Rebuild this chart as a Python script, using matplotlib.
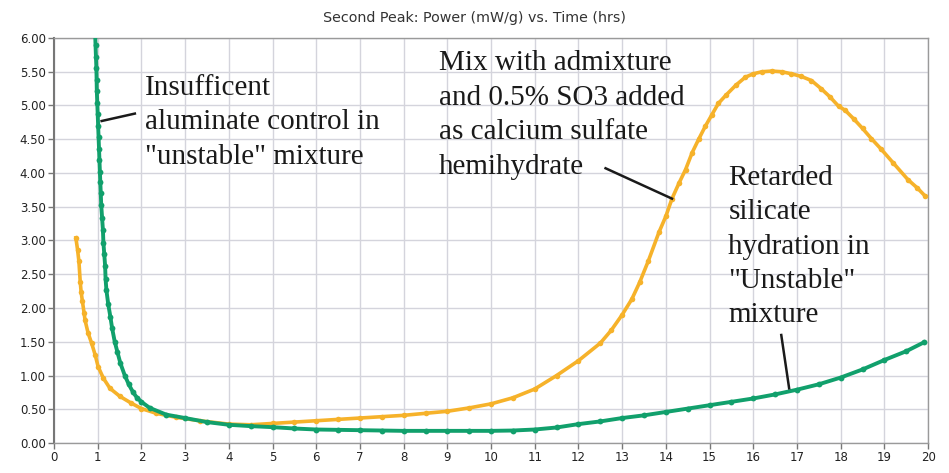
import matplotlib
matplotlib.use("Agg")
import matplotlib.pyplot as plt

# ------------------------------------------------------------
# Data (hours, mW/g)
# ------------------------------------------------------------
unstable_hrs = [
    0.94, 0.95, 0.96, 0.97, 0.975, 0.98, 0.99, 1.00, 1.01, 1.02, 1.03, 1.04,
    1.05, 1.06, 1.07, 1.08, 1.10, 1.12, 1.13, 1.15, 1.17, 1.18, 1.20, 1.24,
    1.29, 1.33, 1.39, 1.45, 1.52, 1.62, 1.71, 1.81, 1.90, 2.00, 2.19, 2.57,
    3.0, 3.5, 4.0, 4.5, 5.0, 5.5, 6.0, 6.5, 7.0, 7.5, 8.0, 8.5, 9.0, 9.5,
    10.0, 10.5, 11.0, 11.5, 12.0, 12.5, 13.0, 13.5, 14.0, 14.5, 15.0, 15.5,
    16.0, 16.5, 17.0, 17.5, 18.0, 18.5, 19.0, 19.5, 19.9,
]
unstable_power = [
    6.10, 5.90, 5.72, 5.55, 5.38, 5.21, 5.04, 4.87, 4.70, 4.53, 4.36, 4.19,
    4.02, 3.86, 3.70, 3.53, 3.34, 3.15, 2.97, 2.80, 2.62, 2.43, 2.26, 2.06,
    1.87, 1.70, 1.50, 1.35, 1.18, 1.00, 0.87, 0.75, 0.67, 0.61, 0.52, 0.42,
    0.37, 0.31, 0.27, 0.25, 0.235, 0.215, 0.20, 0.195, 0.19, 0.185, 0.18, 0.18, 0.18, 0.18,
    0.18, 0.185, 0.20, 0.23, 0.28, 0.32, 0.37, 0.41, 0.46, 0.51, 0.56, 0.61,
    0.66, 0.72, 0.79, 0.87, 0.97, 1.09, 1.23, 1.36, 1.49,
]

admix_hrs = [
    0.50, 0.54, 0.57, 0.60, 0.62, 0.65, 0.69, 0.71, 0.78, 0.86, 0.94, 1.01,
    1.13, 1.28, 1.51, 1.77, 2.00, 2.34, 2.80, 3.33, 4.0, 4.5, 5.0, 5.5, 6.0,
    6.5, 7.0, 7.5, 8.0, 8.5, 9.0, 9.5, 10.0, 10.5, 11.0, 11.5, 12.0, 12.5,
    12.75, 13.0, 13.22, 13.4, 13.6, 13.84, 14.0, 14.14, 14.3, 14.45, 14.6,
    14.75, 14.9, 15.05, 15.2, 15.37, 15.6, 15.82, 16.0, 16.2, 16.42, 16.65,
    16.87, 17.1, 17.33, 17.55, 17.75, 17.95, 18.1, 18.3, 18.5, 18.7, 18.93,
    19.2, 19.54, 19.75, 19.93,
]
admix_power = [
    3.04, 2.86, 2.69, 2.39, 2.24, 2.10, 1.92, 1.82, 1.63, 1.48, 1.31, 1.13,
    0.96, 0.81, 0.69, 0.59, 0.51, 0.44, 0.38, 0.33, 0.28, 0.27, 0.29, 0.31, 0.33,
    0.35, 0.37, 0.39, 0.41, 0.44, 0.47, 0.52, 0.58, 0.67, 0.80, 1.00, 1.22, 1.48,
    1.67, 1.90, 2.13, 2.38, 2.70, 3.12, 3.36, 3.62, 3.85, 4.05, 4.30,
    4.50, 4.69, 4.86, 5.03, 5.15, 5.30, 5.42, 5.47, 5.50, 5.51, 5.50,
    5.47, 5.43, 5.37, 5.25, 5.13, 4.99, 4.93, 4.80, 4.66, 4.51, 4.35,
    4.15, 3.90, 3.78, 3.66,
]

x_ticks = list(range(0, 21))
y_ticks = [0.0, 0.5, 1.0, 1.5, 2.0, 2.5, 3.0, 3.5, 4.0, 4.5, 5.0, 5.5, 6.0]

ORANGE = "#F6B22A"
GREEN = "#11A06C"
SERIF = ["Liberation Serif", "DejaVu Serif"]
NOTE_SIZE = 21
NOTE_SPACING = 1.42

# ------------------------------------------------------------
# Figure
# ------------------------------------------------------------
fig = plt.figure(figsize=(9.49, 4.73), dpi=100)
ax = fig.add_axes([0.0569, 0.0634, 0.9211, 0.8563])

ax.plot(admix_hrs, admix_power, color=ORANGE, lw=2.6,
        marker="o", ms=4.0, mew=0, zorder=3)
ax.plot(unstable_hrs, unstable_power, color=GREEN, lw=2.8,
        marker="o", ms=4.2, mew=0, zorder=4)

ax.set_xlim(0, 20)
ax.set_ylim(0, 6)
ax.set_xticks(x_ticks)
ax.set_yticks(y_ticks)
ax.set_yticklabels([f"{v:.2f}" for v in y_ticks])
ax.grid(color="#d4d4dc", lw=1.0, zorder=0)
ax.set_axisbelow(True)
ax.tick_params(labelsize=8.5, colors="#222222", length=4, width=1,
               direction="out", pad=2)
ax.tick_params(color="#777777")
for s in ax.spines.values():
    s.set_color("#9a9a9a")
    s.set_linewidth(1.0)
ax.spines["left"].set_color("#777777")
ax.spines["left"].set_linewidth(1.5)

fig.text(0.5, 0.962, "Second Peak: Power (mW/g) vs. Time (hrs)",
         ha="center", va="center", fontsize=10.3, color="#333333")

# Annotations
ax.text(2.08, 4.75, 'Insufficent\naluminate control in\n"unstable" mixture',
        family=SERIF, fontsize=NOTE_SIZE, va="center", ha="left",
        linespacing=NOTE_SPACING, color="#1a1a1a")
ax.plot([1.09, 1.85], [4.77, 4.88], color="#1a1a1a", lw=1.8, zorder=5)

ax.text(8.81, 4.86,
        "Mix with admixture\nand 0.5% SO3 added\nas calcium sulfate\nhemihydrate",
        family=SERIF, fontsize=NOTE_SIZE, va="center", ha="left",
        linespacing=NOTE_SPACING, color="#1a1a1a")
ax.plot([12.62, 14.14], [4.07, 3.62], color="#1a1a1a", lw=1.8, zorder=5)

ax.text(15.43, 2.91,
        'Retarded\nsilicate\nhydration in\n"Unstable"\nmixture',
        family=SERIF, fontsize=NOTE_SIZE, va="center", ha="left",
        linespacing=NOTE_SPACING, color="#1a1a1a")
ax.plot([16.64, 16.82], [1.60, 0.81], color="#1a1a1a", lw=1.8, zorder=5)

fig.savefig("out.png", dpi=100)
plt.close(fig)
